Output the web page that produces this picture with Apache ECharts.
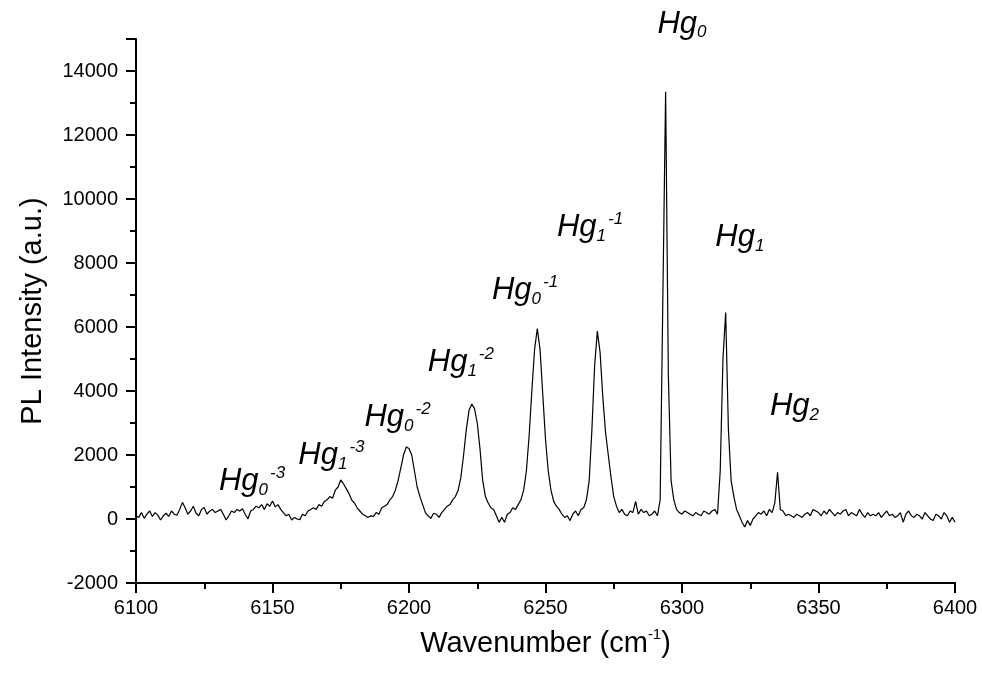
<!DOCTYPE html>
<html>
<head>
<meta charset="utf-8">
<script src="https://cdn.jsdelivr.net/npm/echarts@6/dist/echarts.min.js"></script>
<style>
html,body{margin:0;padding:0;background:#fff;}
#chart{width:982px;height:684px;}
</style>
</head>
<body>
<div id="chart"></div>
<script>
// Wavenumber grid (cm^-1): first point and spacing
const xStart = 6100;
const xStep = 1;

// PL intensity (a.u.), one value per wavenumber from 6100 to 6400
const intensity = [
  100, 50, 200, 20, 150, 250, 80, 200, 120, -30,          // 6100-6109
  100, 180, 80, 250, 150, 120, 300, 520, 350, 150,        // 6110-6119
  250, 400, 180, 100, 300, 360, 150, 250, 300, 200,       // 6120-6129
  250, 300, 150, -30, 100, 250, 200, 300, 250, 320,       // 6130-6139
  150, 0, 250, 300, 400, 350, 450, 300, 480, 400,         // 6140-6149
  560, 380, 450, 300, 200, 100, 150, -30, 50, 0,          // 6150-6159
  -20, 150, 100, 250, 300, 350, 300, 450, 400, 550,       // 6160-6169
  600, 700, 650, 900, 1000, 1220, 1100, 950, 800, 600,    // 6170-6179
  500, 350, 250, 150, 100, 50, 100, 80, 200, 150,         // 6180-6189
  350, 400, 450, 600, 700, 900, 1200, 1600, 2000, 2250,   // 6190-6199
  2200, 2000, 1500, 1000, 700, 450, 200, 100, 20, 180,    // 6200-6209
  150, 50, 200, 300, 400, 450, 600, 700, 900, 1300,       // 6210-6219
  2000, 2800, 3400, 3590, 3450, 3000, 2200, 1200, 700, 500, // 6220-6229
  350, 300, 100, -100, 50, -100, 150, 200, 350, 300,      // 6230-6239
  450, 600, 900, 1500, 2600, 4000, 5300, 5950, 5300, 3900, // 6240-6249
  2500, 1500, 900, 550, 400, 300, 150, 50, 100, -50,      // 6250-6259
  150, 250, 100, 300, 350, 600, 1200, 2800, 4800, 5870,   // 6260-6269
  5200, 3800, 2700, 2000, 1300, 700, 400, 200, 300, 150,  // 6270-6279
  100, 250, 200, 550, 150, 300, 200, 250, 100, 150,       // 6280-6289
  250, 100, 600, 7000, 13350, 4500, 1200, 600, 300, 200,  // 6290-6299
  150, 250, 200, 150, 100, 200, 150, 100, 250, 200,       // 6300-6309
  150, 250, 300, 150, 1500, 5000, 6450, 2800, 1200, 700,  // 6310-6319
  300, 100, -100, -250, -50, -200, 0, 100, 200, 150,      // 6320-6329
  250, 100, 300, 200, 500, 1460, 300, 250, 100, 150,      // 6330-6339
  100, 50, 150, 100, 50, 150, 200, 100, 300, 250,         // 6340-6349
  200, 100, 250, 150, 300, 200, 100, 200, 150, 250,       // 6350-6359
  300, 100, 200, 150, 100, 300, 150, 50, 200, 100,        // 6360-6369
  150, 100, 200, 50, 150, 250, 100, 150, 50, 100,         // 6370-6379
  200, -100, 150, 250, 100, 50, 150, 100, 0, 200,         // 6380-6389
  100, 0, -50, 150, 100, 0, 200, 100, -100, 50,           // 6390-6399
  -100                                                    // 6400
];

// Peak annotations: base text, subscript, superscript, anchor (wavenumber, intensity)
const peakBase = ['Hg', 'Hg', 'Hg', 'Hg', 'Hg', 'Hg', 'Hg', 'Hg', 'Hg'];
const peakSub = ['0', '1', '0', '1', '0', '1', '0', '1', '2'];
const peakSup = ['-3', '-3', '-2', '-2', '-1', '-1', '', '', ''];
const peakLabelX = [6142.5, 6171.6, 6195.8, 6219.0, 6242.5, 6266.3, 6300.0, 6321.2, 6341.2];
const peakLabelY = [1175, 1973, 3179, 4886, 7141, 9114, 15472, 8801, 3508];

// Axis settings
const xMin = 6100, xMax = 6400, xInterval = 50;
const yMin = -2000, yMax = 15000, yInterval = 2000;

const FONT = 'Liberation Sans, Arial, sans-serif';

const lineData = intensity.map((v, i) => [xStart + i * xStep, v]);

const chart = echarts.init(document.getElementById('chart'), null, {renderer: 'canvas'});

const axisCommon = {
  axisLine: {show: true, onZero: false, lineStyle: {color: '#000', width: 2}},
  axisTick: {show: true, inside: false, length: 10, lineStyle: {color: '#000', width: 2}},
  minorTick: {show: true, splitNumber: 2, length: 6, lineStyle: {color: '#000', width: 2}},
  splitLine: {show: false},
  minorSplitLine: {show: false}
};

const plain = v => String(v);

chart.setOption({
  animation: false,
  backgroundColor: '#fff',
  grid: {left: 136, right: 27, top: 39, bottom: 101, containLabel: false},
  xAxis: Object.assign({
    type: 'value', min: xMin, max: xMax, interval: xInterval,
    axisLabel: {color: '#000', fontSize: 20, fontFamily: FONT, margin: 15, formatter: plain},
    name: '{a|Wavenumber (cm}{s|-1}{a|)}',
    nameLocation: 'middle', nameGap: 44,
    nameTextStyle: {
      rich: {
        a: {fontSize: 29, fontFamily: FONT, color: '#000', lineHeight: 34},
        s: {fontSize: 15, fontFamily: FONT, color: '#000', verticalAlign: 'top', lineHeight: 12}
      }
    }
  }, axisCommon),
  yAxis: Object.assign({
    type: 'value', min: yMin, max: yMax, interval: yInterval,
    axisLabel: {color: '#000', fontSize: 20, fontFamily: FONT, margin: 18, showMaxLabel: false, formatter: plain},
    name: 'PL Intensity (a.u.)',
    nameLocation: 'middle', nameGap: 89, nameRotate: 90,
    nameTextStyle: {color: '#000', fontSize: 29, fontFamily: FONT}
  }, axisCommon),
  series: [
    {
      type: 'line',
      data: lineData,
      showSymbol: false,
      symbol: 'none',
      smooth: false,
      lineStyle: {color: '#000', width: 1.2},
      clip: false,
      z: 3
    }
  ]
});

// Peak labels placed at data coordinates through the chart's own scales
const labelElements = peakLabelX.map((x, i) => {
  const pt = chart.convertToPixel({gridIndex: 0}, [x, peakLabelY[i]]);
  const text = '{b|' + peakBase[i] + '}{sub|' + peakSub[i] + '}' + (peakSup[i] ? '{sup|' + peakSup[i] + '}' : '');
  return {
    type: 'text',
    x: pt[0], y: pt[1],
    z: 100,
    silent: true,
    style: {
      text: text,
      align: 'center',
      verticalAlign: 'middle',
      fill: '#000',
      rich: {
        b: {fontSize: 31, fontStyle: 'italic', fontFamily: FONT, fill: '#000', lineHeight: 34},
        sub: {fontSize: 17, fontStyle: 'italic', fontFamily: FONT, fill: '#000', lineHeight: 4, verticalAlign: 'bottom'},
        sup: {fontSize: 17, fontStyle: 'italic', fontFamily: FONT, fill: '#000', lineHeight: 10, verticalAlign: 'top', padding: [0, 0, 0, 2]}
      }
    }
  };
});
chart.setOption({graphic: {elements: labelElements}});
</script>
</body>
</html>
